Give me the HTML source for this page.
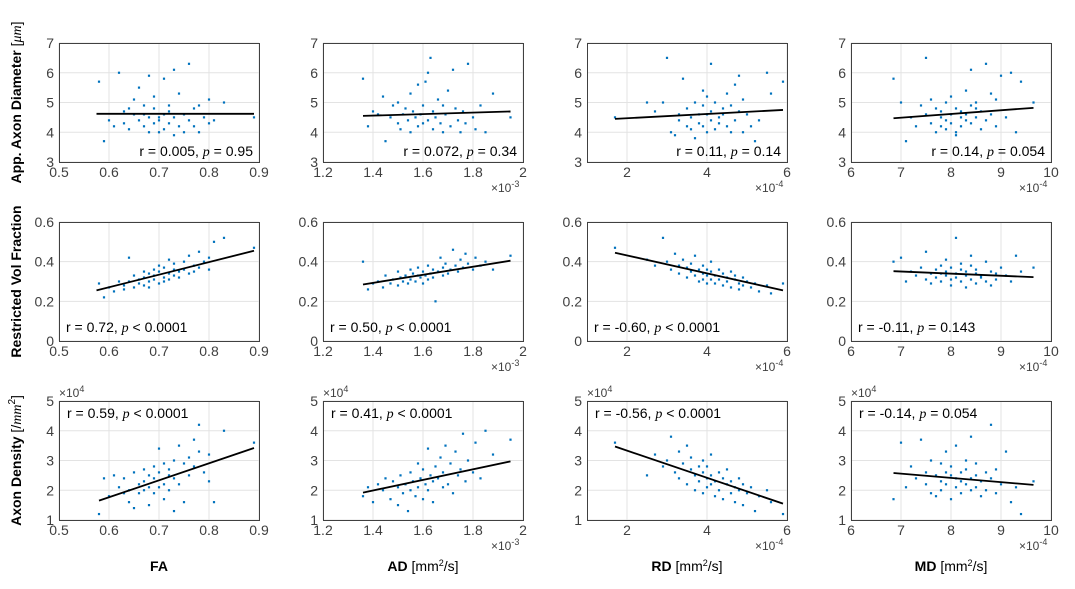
<!DOCTYPE html>
<html><head><meta charset="utf-8"><style>
body{margin:0;background:#fff;}
svg{display:block;font-family:"Liberation Sans","DejaVu Sans",sans-serif;}
</style></head><body>
<svg id="fig" width="1075" height="589" viewBox="0 0 1075 589" xmlns="http://www.w3.org/2000/svg"></svg>
<script>
// ---- data ----
const xFA=[0.58,0.59,0.60,0.61,0.62,0.63,0.63,0.64,0.64,0.65,0.65,0.66,0.66,0.67,0.67,0.67,0.68,0.68,0.68,0.69,0.69,0.69,0.70,0.70,0.70,0.71,0.71,0.71,0.72,0.72,0.72,0.73,0.73,0.73,0.74,0.74,0.75,0.75,0.76,0.76,0.77,0.77,0.78,0.78,0.79,0.80,0.80,0.81,0.83,0.89];
const xAD=[1.36,1.38,1.40,1.42,1.44,1.45,1.47,1.48,1.50,1.50,1.51,1.52,1.53,1.54,1.55,1.55,1.56,1.57,1.58,1.58,1.59,1.60,1.60,1.61,1.62,1.62,1.63,1.64,1.64,1.65,1.66,1.67,1.68,1.68,1.69,1.70,1.71,1.72,1.73,1.74,1.75,1.76,1.77,1.78,1.80,1.81,1.83,1.85,1.88,1.95];
const xRD=[1.7,2.5,2.7,2.9,3.0,3.1,3.2,3.3,3.3,3.4,3.5,3.5,3.6,3.6,3.7,3.7,3.8,3.8,3.9,3.9,3.9,4.0,4.0,4.0,4.1,4.1,4.1,4.2,4.2,4.3,4.3,4.4,4.4,4.5,4.5,4.6,4.6,4.7,4.7,4.8,4.8,4.9,4.9,5.0,5.1,5.2,5.3,5.5,5.6,5.9];
const xMD=[6.85,7.0,7.1,7.2,7.3,7.4,7.5,7.5,7.6,7.6,7.7,7.7,7.8,7.8,7.8,7.9,7.9,7.9,8.0,8.0,8.0,8.1,8.1,8.1,8.2,8.2,8.2,8.3,8.3,8.3,8.4,8.4,8.4,8.5,8.5,8.5,8.6,8.6,8.7,8.7,8.8,8.8,8.9,8.9,9.0,9.1,9.2,9.3,9.4,9.65];

const diamFA=[5.7,3.7,4.4,4.2,6.0,4.3,4.7,4.8,4.1,5.1,4.6,5.5,4.4,4.9,4.2,4.6,5.9,4.0,4.5,4.3,4.8,5.2,4.5,4.0,4.4,4.1,5.8,4.6,4.7,4.3,4.9,6.1,4.5,3.9,4.2,5.3,4.6,4.0,6.3,4.4,4.8,4.2,4.9,4.0,4.5,5.1,4.3,4.4,5.0,4.5];
const diamAD=[5.8,4.2,4.7,4.6,5.2,3.7,4.5,4.9,4.3,5.0,4.1,4.6,4.8,4.4,5.3,4.0,4.7,4.5,5.6,4.2,4.6,4.9,4.3,5.7,6.0,4.4,6.5,4.7,4.1,4.5,5.1,4.3,4.9,4.0,4.6,5.4,4.2,6.1,4.8,4.4,4.0,4.7,4.3,6.3,4.5,4.1,4.9,4.0,5.3,4.5];
const diamRD=[4.5,5.0,4.7,5.0,6.5,4.0,3.9,4.6,4.4,5.8,4.2,4.8,4.5,4.1,5.0,3.8,4.6,4.3,5.4,4.9,4.2,4.6,4.0,5.2,6.3,4.4,4.7,4.1,5.0,4.5,4.3,4.8,4.6,5.3,4.2,4.9,4.0,5.6,4.4,5.9,4.7,5.1,4.0,4.6,4.2,3.7,4.4,6.0,5.3,5.7];
const diamMD=[5.8,5.0,3.7,4.5,4.2,4.9,6.5,4.6,4.3,5.1,4.8,4.0,4.5,4.7,4.2,5.0,4.4,4.1,4.6,5.2,4.3,4.0,4.8,3.9,4.5,4.7,4.2,5.4,4.4,4.6,4.9,6.1,4.3,4.8,5.0,4.5,4.1,4.7,6.3,4.4,5.3,4.6,4.2,5.1,5.9,4.5,6.0,4.0,5.7,5.0];

const rvfFA=[0.29,0.22,0.27,0.25,0.30,0.28,0.26,0.42,0.30,0.27,0.33,0.31,0.29,0.35,0.28,0.32,0.30,0.34,0.27,0.36,0.31,0.33,0.29,0.35,0.38,0.32,0.30,0.37,0.34,0.41,0.31,0.36,0.33,0.39,0.35,0.32,0.40,0.36,0.34,0.43,0.38,0.35,0.45,0.37,0.40,0.42,0.36,0.50,0.52,0.47];
const rvfAD=[0.40,0.26,0.29,0.30,0.27,0.33,0.29,0.31,0.35,0.28,0.32,0.30,0.33,0.29,0.36,0.31,0.34,0.30,0.33,0.37,0.32,0.29,0.35,0.33,0.31,0.38,0.34,0.36,0.32,0.20,0.35,0.42,0.33,0.37,0.39,0.34,0.36,0.46,0.38,0.35,0.41,0.37,0.44,0.39,0.36,0.42,0.38,0.40,0.36,0.43];
const rvfRD=[0.47,0.41,0.38,0.52,0.40,0.36,0.44,0.38,0.34,0.41,0.37,0.32,0.39,0.35,0.43,0.33,0.36,0.30,0.38,0.34,0.31,0.36,0.33,0.29,0.35,0.31,0.40,0.33,0.29,0.36,0.31,0.34,0.28,0.32,0.30,0.35,0.27,0.31,0.33,0.29,0.26,0.32,0.28,0.30,0.27,0.29,0.25,0.28,0.24,0.29];
const rvfMD=[0.40,0.42,0.30,0.35,0.33,0.37,0.31,0.45,0.34,0.29,0.36,0.32,0.38,0.34,0.30,0.35,0.41,0.33,0.31,0.37,0.28,0.34,0.52,0.32,0.36,0.30,0.39,0.33,0.27,0.35,0.38,0.31,0.43,0.34,0.29,0.36,0.32,0.33,0.40,0.30,0.35,0.28,0.34,0.31,0.37,0.33,0.30,0.43,0.35,0.37];

const densFA=[1.2,2.4,1.8,2.5,2.1,1.9,2.4,2.0,1.6,2.6,1.4,2.2,1.9,2.7,2.0,2.3,1.5,2.5,2.1,2.8,1.9,2.4,3.4,2.1,2.6,2.2,1.7,2.9,2.5,2.0,2.7,3.0,1.3,2.4,3.5,2.2,2.9,1.6,3.1,2.5,3.7,2.8,4.2,3.3,2.6,3.2,2.3,1.6,4.0,3.6];
const densAD=[1.8,2.1,1.6,2.2,2.0,2.4,1.7,2.3,2.1,1.5,2.5,1.9,2.2,1.3,2.6,2.0,2.3,1.8,2.9,2.1,2.4,1.7,2.7,2.2,3.4,2.0,2.5,2.3,1.6,2.8,2.4,3.1,2.1,2.6,3.5,2.2,2.9,1.9,3.3,2.5,2.7,3.9,2.3,3.0,2.6,3.6,2.4,4.0,3.2,3.7];
const densRD=[3.6,2.5,3.2,2.8,3.0,3.8,2.6,3.3,2.4,2.9,3.5,2.2,2.7,3.1,2.5,2.0,2.8,2.3,3.0,2.6,1.9,2.4,2.8,2.1,2.5,2.2,3.2,2.3,1.8,2.6,2.0,2.4,1.7,2.2,2.7,1.9,2.3,2.1,1.6,2.4,2.0,2.2,1.5,1.9,2.1,1.3,1.8,2.0,1.6,1.2];
const densMD=[1.7,3.6,2.1,2.8,2.4,3.7,2.2,2.6,1.9,3.0,2.5,1.8,2.3,2.9,2.0,2.6,3.3,2.2,2.5,1.7,2.8,2.4,3.5,2.1,2.6,1.9,2.3,3.0,2.2,2.7,2.0,2.4,3.8,2.5,2.1,2.9,1.8,2.3,2.6,2.0,4.2,2.4,1.9,2.7,2.2,3.3,1.6,2.1,1.2,2.3];

// regression line endpoints [x0,y0,x1,y1] per panel
const fitDiam=[[0.575,4.62,0.89,4.62],[1.36,4.55,1.95,4.70],[1.7,4.45,5.9,4.75],[6.85,4.47,9.65,4.82]];
const fitRvf=[[0.575,0.255,0.89,0.455],[1.36,0.285,1.95,0.405],[1.7,0.445,5.9,0.255],[6.85,0.352,9.65,0.322]];
const fitDens=[[0.58,1.65,0.89,3.42],[1.36,1.92,1.95,2.97],[1.7,3.47,5.9,1.55],[6.85,2.58,9.65,2.18]];

const statsDiam=["r = 0.005, |p| = 0.95","r = 0.072, |p| = 0.34","r = 0.11, |p| = 0.14","r = 0.14, |p| = 0.054"];
const statsRvf=["r = 0.72, |p| < 0.0001","r = 0.50, |p| < 0.0001","r = -0.60, |p| < 0.0001","r = -0.11, |p| = 0.143"];
const statsDens=["r = 0.59, |p| < 0.0001","r = 0.41, |p| < 0.0001","r = -0.56, |p| < 0.0001","r = -0.14, |p| = 0.054"];

const xTicks=[[0.5,0.6,0.7,0.8,0.9],[1.2,1.4,1.6,1.8,2],[2,4,6],[6,7,8,9,10]];
const xTickLabels=[["0.5","0.6","0.7","0.8","0.9"],["1.2","1.4","1.6","1.8","2"],["2","4","6"],["6","7","8","9","10"]];
const xRanges=[[0.5,0.9],[1.2,2.0],[1,6],[6,10]];
const xExp=["","-3","-4","-4"];
const yTicks=[[3,4,5,6,7],[0,0.2,0.4,0.6],[1,2,3,4,5]];
const yTickLabels=[["3","4","5","6","7"],["0","0.2","0.4","0.6"],["1","2","3","4","5"]];
const yRanges=[[3,7],[0,0.6],[1,5]];

// ---- layout ----
const svg=document.getElementById('fig');
const NS='http://www.w3.org/2000/svg';
const colL=[59,323,587,851], W=200;
const rowT=[43,222,401], H=119;
const xs=[xFA,xAD,xRD,xMD];
const ys=[[diamFA,diamAD,diamRD,diamMD],[rvfFA,rvfAD,rvfRD,rvfMD],[densFA,densAD,densRD,densMD]];
const fits=[fitDiam,fitRvf,fitDens];
const stats=[statsDiam,statsRvf,statsDens];
const rowNames=['diameter','rvf','density'], colNames=['fa','ad','rd','md'];

function mk(tag,attrs,parent){const e=document.createElementNS(NS,tag);for(const k in attrs)e.setAttribute(k,attrs[k]);(parent||svg).appendChild(e);return e;}

for(let r=0;r<3;r++)for(let c=0;c<4;c++){
  const L=colL[c],T=rowT[r];
  const [x0,x1]=xRanges[c],[y0,y1]=yRanges[r];
  const sx=v=>L+(v-x0)/(x1-x0)*W;
  const sy=v=>T+H-(v-y0)/(y1-y0)*H;
  const g=mk('g',{});
  
  
  mk('rect',{x:L,y:T,width:W,height:H,fill:'#fff'},g);
  xTicks[c].forEach((t,i)=>{const X=sx(t);
    const gl=mk('line',{x1:X,x2:X,y1:T,y2:T+H,stroke:'#e3e3e3','stroke-width':1},g);
    
    const tl=mk('text',{x:X,y:T+H+15,'text-anchor':'middle','font-size':14,fill:'#404040'},g);
    
    tl.textContent=xTickLabels[c][i];});
  yTicks[r].forEach((t,i)=>{const Y=sy(t);
    const gl=mk('line',{x1:L,x2:L+W,y1:Y,y2:Y,stroke:'#e3e3e3','stroke-width':1},g);
    
    const tl=mk('text',{x:L-5,y:Y+5,'text-anchor':'end','font-size':14,fill:'#404040'},g);
    
    tl.textContent=yTickLabels[r][i];});
  const box=mk('rect',{x:L+0.5,y:T+0.5,width:W,height:H,fill:'none',stroke:'#404040','stroke-width':1},g);
  
  const xv=xs[c],yv=ys[r][c];
  for(let i=0;i<xv.length;i++){
    const p=mk('rect',{x:sx(xv[i])-1.1,y:sy(yv[i])-1.1,width:2.2,height:2.2,fill:'#0072BD'},g);
    
  }
  const f=fits[r][c];
  const ln=mk('line',{x1:sx(f[0]),y1:sy(f[1]),x2:sx(f[2]),y2:sy(f[3]),stroke:'#000','stroke-width':1.8},g);
  
  const parts=stats[r][c].split('|');
  let tx,ty,anchor;
  if(r===0){tx=L+W-6;ty=T+H-6;anchor='end';}
  else if(r===1){tx=L+7;ty=T+H-9;anchor='start';}
  else{tx=L+8;ty=T+17;anchor='start';}
  const st=mk('text',{x:tx,y:ty,'text-anchor':anchor,'font-size':14,fill:'#000'},g);
  
  mk('tspan',{},st).textContent=parts[0];
  mk('tspan',{'font-style':'italic','font-family':'Liberation Serif, serif'},st).textContent=parts[1];
  mk('tspan',{},st).textContent=parts[2];
  if(xExp[c]){
    const ex=mk('text',{x:L+W-32,y:T+H+30,'font-size':12,fill:'#404040'},g);
    
    mk('tspan',{},ex).textContent='×10';
    mk('tspan',{dy:-5,'font-size':9},ex).textContent=xExp[c];
  }
  if(r===2){
    const ey=mk('text',{x:L,y:T-4,'font-size':12,fill:'#404040'},g);
    
    mk('tspan',{},ey).textContent='×10';
    mk('tspan',{dy:-5,'font-size':9},ey).textContent='4';
  }
}
// y-axis titles
const yTitles=[['App. Axon Diameter ','[','μm',']',''],['Restricted Vol Fraction','','','',''],['Axon Density ','[/','mm','','2']];
yTitles.forEach((t,r)=>{
  const cy=rowT[r]+H/2;
  const tt=mk('text',{x:0,y:0,transform:`translate(21,${cy}) rotate(-90)`,'text-anchor':'middle','font-size':14,'font-weight':'bold',fill:'#000'});
  
  mk('tspan',{},tt).textContent=t[0];
  if(t[1]){
    mk('tspan',{'font-weight':'normal'},tt).textContent=t[1];
    mk('tspan',{'font-weight':'normal','font-style':'italic','font-family':'Liberation Serif, serif'},tt).textContent=t[2];
    if(t[4]){
      mk('tspan',{'font-weight':'normal','font-size':10,dy:-6},tt).textContent=t[4];
      mk('tspan',{'font-weight':'normal',dy:6},tt).textContent=']';
    } else {
      mk('tspan',{'font-weight':'normal'},tt).textContent=t[3];
    }
  }
});
// x-axis titles
const xTitleMain=['FA','AD','RD','MD'];
xTitleMain.forEach((m,c)=>{
  const tt=mk('text',{x:colL[c]+W/2,y:571,'text-anchor':'middle','font-size':14,fill:'#000'});
  
  mk('tspan',{'font-weight':'bold'},tt).textContent=m;
  if(c>0){
    mk('tspan',{},tt).textContent=' [mm';
    mk('tspan',{dy:-5,'font-size':9},tt).textContent='2';
    mk('tspan',{dy:5},tt).textContent='/s]';
  }
});
</script>
</body></html>
